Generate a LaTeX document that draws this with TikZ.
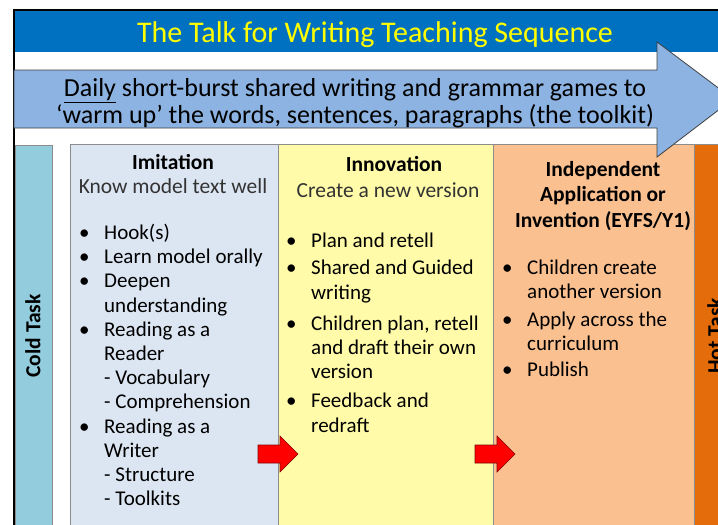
\documentclass[tikz,border=0pt]{standalone}
\usepackage{fontspec}
\setmainfont{Carlito}
\usetikzlibrary{positioning}

\definecolor{titleblue}{HTML}{0070C0}
\definecolor{titleyellow}{HTML}{FFFF00}
\definecolor{bandblue}{HTML}{8DB3E2}
\definecolor{coldblue}{HTML}{93CDDD}
\definecolor{imitfill}{HTML}{DCE6F2}
\definecolor{innofill}{HTML}{FFFBA8}
\definecolor{indepfill}{HTML}{FAC090}
\definecolor{hotorange}{HTML}{E46C0A}
\definecolor{arrowred}{HTML}{FF0000}

\newcommand{\itm}{\makebox[25pt][l]{\textbullet}}
\newcommand{\ind}{\hspace*{25pt}}

\begin{document}
\begin{tikzpicture}[x=1pt, y=-1pt,
	every node/.style={inner sep=0pt},
	colbox/.style={draw=black!45, line width=0.8pt},
	heading/.style={font=\fontsize{21.5}{24}\selectfont\bfseries, align=center, anchor=north},
	itemlist/.style={font=\fontsize{21}{24.2}\selectfont, align=left, anchor=north west},
	sidetask/.style={font=\fontsize{21.5}{24}\selectfont\bfseries, rotate=90}]
	\clip (0,0) rectangle (718,525);
	\fill[white] (0,0) rectangle (718,525);

	% title band
	\fill[titleblue] (14,11) rectangle (718,52);
	\node[font=\fontsize{30}{33}\selectfont, text=titleyellow] (title) at (375,35) {The Talk for Writing Teaching Sequence};

	% columns
	\draw[colbox, fill=coldblue] (15,145) rectangle (52,530);
	\draw[colbox, fill=imitfill] (70,144) rectangle (278,530);
	\draw[colbox, fill=innofill] (278,144) rectangle (493,530);
	\draw[colbox, fill=indepfill] (493,144) rectangle (694,530);
	\draw[colbox, fill=hotorange] (694,144) rectangle (730,530);

	% outer frame
	\draw[line width=1.6pt] (14,530) -- (14,10) -- (720,10);

	% daily warm up arrow
	\draw[fill=bandblue, draw=black!75, line width=0.8pt] (14,70) -- (657,70) -- (657,42) -- (733,99) -- (657,157) -- (657,128) -- (14,128) -- cycle;
	\node[font=\fontsize{26}{27}\selectfont, align=center] (daily) at (355,103)
		{\underline{Daily} short-burst shared writing and grammar games to\\
		 ‘warm up’ the words, sentences, paragraphs (the toolkit)};

	% cold and hot task
	\node[sidetask] (cold) at (33,336) {Cold Task};
	\node[sidetask] (hot) at (715,336) {Hot Task};

	% imitation
	\node[heading] (imit) at (173,154) {Imitation\\ {\mdseries\color{black!80}Know model text well}};
	\node[itemlist] (imitlist) at (79,224) {%
		\itm Hook(s)\\
		\itm Learn model orally\\
		\itm Deepen\\
		\ind understanding\\
		\itm Reading as a\\
		\ind Reader\\
		\ind - Vocabulary\\
		\ind - Comprehension\\
		\itm Reading as a\\
		\ind Writer\\
		\ind - Structure\\
		\ind - Toolkits};

	% innovation
	\node[heading] (inno) at (388,156) {\hspace*{12pt}Innovation\\[2pt] {\mdseries\color{black!80}Create a new version}};
	\node[itemlist] (innolist) at (286,233) {%
		\itm Plan and retell\\[3pt]
		\itm Shared and Guided\\
		\ind writing\\[7pt]
		\itm Children plan, retell\\
		\ind and draft their own\\
		\ind version\\[5pt]
		\itm Feedback and\\
		\ind redraft};

	% independent application
	\node[heading, font=\fontsize{21.5}{25.5}\selectfont\bfseries] (indep) at (603,161) {Independent\\ Application or\\ Invention (EYFS/Y1)};
	\node[itemlist] (indeplist) at (502,260) {%
		\itm Children create\\
		\ind another version\\[3pt]
		\itm Apply across the\\
		\ind curriculum\\[2pt]
		\itm Publish};

	% red arrows between stages
	\foreach \x/\name in {258/toinno, 475/toindep}
		\draw[fill=arrowred, draw=red!50!black, line width=0.6pt] (\x,445) -- ++(22,0) -- ++(0,-9) -- ++(18,18) -- ++(-18,18) -- ++(0,-9) -- ++(-22,0) -- cycle;
\end{tikzpicture}
\end{document}
